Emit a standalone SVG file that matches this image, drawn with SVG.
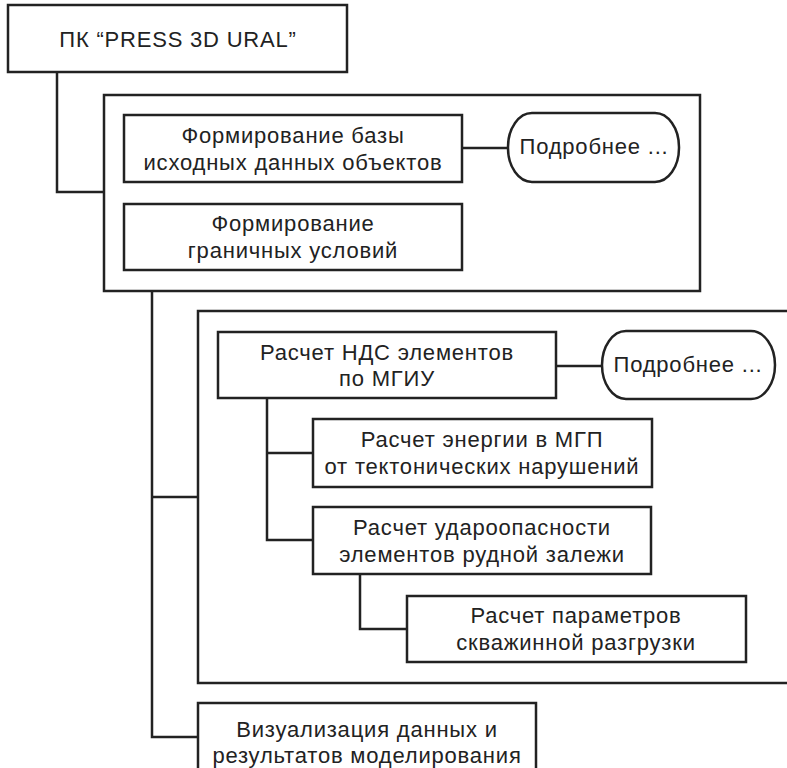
<svg xmlns="http://www.w3.org/2000/svg" width="787" height="768" viewBox="0 0 787 768">
<style>
.b{fill:#fff;stroke:#222;stroke-width:2.5}
.g{fill:none;stroke:#222;stroke-width:2.5}
.c{fill:none;stroke:#222;stroke-width:2.5}
text{font-family:"Liberation Sans",Arial,sans-serif;font-size:22px;letter-spacing:0.8px;fill:#222;text-anchor:middle}
</style>
<rect width="787" height="768" fill="#fff"/>
<g id="group1"><rect class="g" x="104" y="95" width="596" height="196"/></g>
<g id="group2"><rect class="g" x="198" y="311" width="620" height="372"/></g>
<g id="connectors">
<polyline class="c" points="57,72 57,192 104,192"/>
<polyline class="c" points="152,291 152,737 198,737"/>
<line class="c" x1="152" y1="497" x2="198" y2="497"/>
<line class="c" x1="462" y1="148" x2="508" y2="148"/>
<line class="c" x1="556" y1="366" x2="602" y2="366"/>
<polyline class="c" points="267,398 267,540 313,540"/>
<line class="c" x1="267" y1="453" x2="313" y2="453"/>
<polyline class="c" points="360,574 360,629 407,629"/>
</g>
<g id="root"><rect class="b" x="8" y="5" width="339" height="67"/><text x="178" y="47">ПК “PRESS 3D URAL”</text></g>
<g id="base"><rect class="b" x="124" y="115" width="338" height="67"/><text x="293" y="143">Формирование базы</text><text x="293" y="170">исходных данных объектов</text></g>
<g id="more1"><rect class="b" x="508" y="113" width="171" height="69" rx="24" ry="34"/><text x="594" y="154">Подробнее ...</text></g>
<g id="boundary"><rect class="b" x="124" y="204" width="338" height="66"/><text x="293" y="231">Формирование</text><text x="293" y="258">граничных условий</text></g>
<g id="nds"><rect class="b" x="218" y="332" width="338" height="66"/><text x="387" y="360">Расчет НДС элементов</text><text x="387" y="386">по МГИУ</text></g>
<g id="more2"><rect class="b" x="602" y="331" width="173" height="68" rx="24" ry="34"/><text x="688" y="372">Подробнее ...</text></g>
<g id="energy"><rect class="b" x="313" y="419" width="339" height="68"/><text x="482" y="447">Расчет энергии в МГП</text><text x="482" y="474">от тектонических нарушений</text></g>
<g id="hazard"><rect class="b" x="313" y="507" width="338" height="67"/><text x="482" y="535">Расчет удароопасности</text><text x="482" y="562">элементов рудной залежи</text></g>
<g id="params"><rect class="b" x="407" y="596" width="339" height="66"/><text x="576" y="623">Расчет параметров</text><text x="576" y="650">скважинной разгрузки</text></g>
<g id="vis"><rect class="b" x="198" y="703" width="338" height="80"/><text x="367" y="737">Визуализация данных и</text><text x="367" y="763">результатов моделирования</text></g>
</svg>
